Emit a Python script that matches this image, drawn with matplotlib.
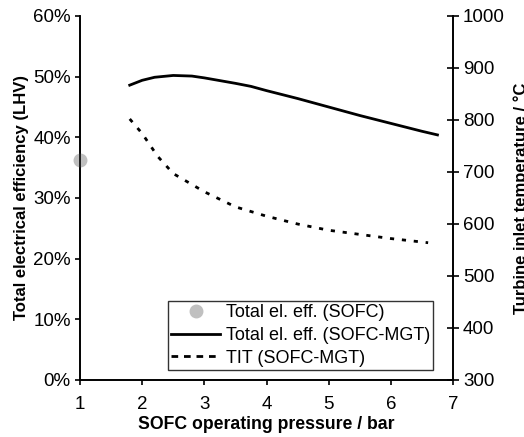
import matplotlib
matplotlib.use("Agg")
import matplotlib.pyplot as plt
from matplotlib.ticker import PercentFormatter
from matplotlib.lines import Line2D

plt.rcParams['font.family'] = ['Liberation Sans', 'DejaVu Sans']

# SOFC only (atmospheric)
sofc_p = [1.0]
sofc_eff = [36.3]

# SOFC-MGT efficiency vs pressure
eff_p = [1.8, 2.0, 2.2, 2.5, 2.8, 3.0, 3.5, 3.75, 4.0, 4.5, 5.0, 5.5, 6.0, 6.5, 6.75]
eff = [48.6, 49.4, 49.9, 50.2, 50.1, 49.8, 48.9, 48.4, 47.7, 46.4, 45.0, 43.6, 42.3, 41.0, 40.4]

# TIT vs pressure
tit_p = [1.8, 2.0, 2.25, 2.5, 3.0, 3.5, 4.0, 4.5, 5.0, 5.5, 6.0, 6.6]
tit = [802, 774, 730, 697, 662, 633, 615, 600, 588, 580, 572, 564]

fig = plt.figure(figsize=(5.24, 4.37), dpi=100)
ax = fig.add_axes([80/524, 1 - 380/437, (453-80)/524, (380-16)/437])
ax2 = ax.twinx()

ax.plot(sofc_p, sofc_eff, 'o', color='#c0c0c0', markersize=9, clip_on=False, zorder=5)
ax.plot(eff_p, eff, '-', color='black', lw=2.0)
ax2.plot(tit_p, tit, color='black', lw=2.0, dashes=(1.5, 2.8))

ax.set_xlim(1, 7)
ax.set_ylim(0, 60)
ax2.set_ylim(300, 1000)
ax.set_xticks(range(1, 8))
ax.set_yticks(range(0, 61, 10))
ax2.set_yticks(range(300, 1001, 100))
ax.yaxis.set_major_formatter(PercentFormatter(decimals=0))

for a in (ax, ax2):
    for s in a.spines.values():
        s.set_linewidth(1.2)
    a.tick_params(labelsize=13.5, width=1.2, length=3.6, pad=3)
ax.spines['top'].set_visible(False)
ax2.spines['top'].set_visible(False)
ax.tick_params(axis='x', pad=8)
ax2.tick_params(axis='y', direction='inout', length=8.5, pad=3)

ax.set_xlabel('SOFC operating pressure / bar', fontsize=12.7, fontweight='bold', labelpad=2)
ax.set_ylabel('Total electrical efficiency (LHV)', fontsize=12, fontweight='bold', labelpad=3)
ax2.set_ylabel('Turbine inlet temperature / °C', fontsize=12, fontweight='bold', labelpad=6)

handles = [
    Line2D([], [], ls='none', marker='o', color='#c0c0c0', markersize=9),
    Line2D([], [], color='black', lw=2.0),
    Line2D([], [], color='black', lw=2.0, dashes=(2.4, 2.1)),
]
labels = ['Total el. eff. (SOFC)', 'Total el. eff. (SOFC-MGT)', 'TIT (SOFC-MGT)']
leg = ax2.legend(handles, labels, loc='lower right', bbox_to_anchor=(433/373 - 80/373, 10/364),
                 fontsize=13, frameon=True, fancybox=False, edgecolor='black',
                 borderpad=0.18, labelspacing=0.32, handlelength=2.7, handletextpad=0.3,
                 borderaxespad=0)
leg.get_frame().set_linewidth(1.0)

fig.savefig('out.png', dpi=100)
